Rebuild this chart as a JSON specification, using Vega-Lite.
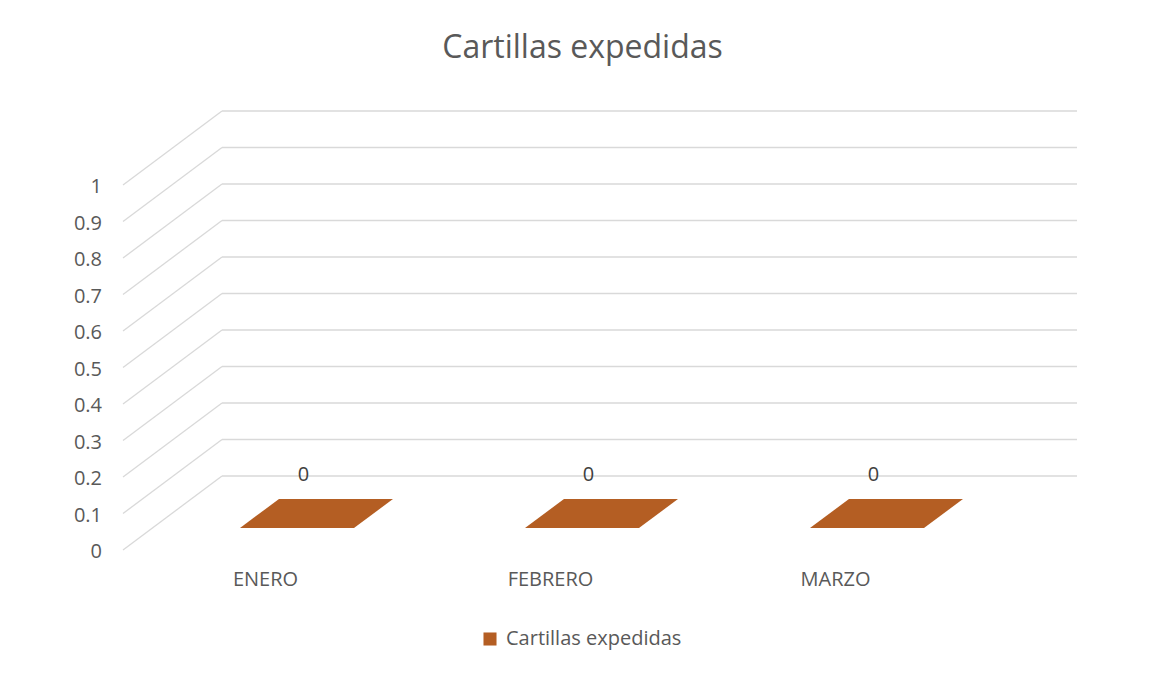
{
  "$schema": "https://vega.github.io/schema/vega-lite/v6.json",
  "width": 855,
  "height": 365,
  "autosize": {"type": "none"},
  "padding": {"left": 123, "top": 185, "right": 173, "bottom": 125},
  "background": "white",
  "config": {"view": {"stroke": null}, "font": "Open Sans"},
  "title": {
    "text": "Cartillas expedidas",
    "fontSize": 32,
    "fontWeight": "normal",
    "color": "#595959",
    "font": "Open Sans",
    "anchor": "middle",
    "dx": 32,
    "offset": 45
  },
  "datasets": {
    "meses": [
      {"mes": "ENERO", "valor": 0, "serie": "Cartillas expedidas"},
      {"mes": "FEBRERO", "valor": 0, "serie": "Cartillas expedidas"},
      {"mes": "MARZO", "valor": 0, "serie": "Cartillas expedidas"}
    ],
    "niveles": [
      {"v": 0}, {"v": 0.1}, {"v": 0.2}, {"v": 0.3}, {"v": 0.4}, {"v": 0.5},
      {"v": 0.6}, {"v": 0.7}, {"v": 0.8}, {"v": 0.9}, {"v": 1}
    ]
  },
  "layer": [
    {
      "data": {"name": "niveles"},
      "mark": {"type": "rule", "color": "#D9D9D9", "strokeWidth": 1.3, "xOffset": 99, "x2Offset": 99, "yOffset": -74, "y2Offset": -74},
      "encoding": {
        "x": {"datum": "ENERO", "type": "nominal", "bandPosition": 0,
          "scale": {"domain": ["ENERO", "FEBRERO", "MARZO"], "paddingInner": 0, "paddingOuter": 0}},
        "x2": {"datum": "MARZO", "bandPosition": 1},
        "y": {"field": "v", "type": "quantitative", "scale": {"domain": [0, 1], "nice": false}, "axis": null},
        "y2": {"field": "v"}
      }
    },
    {
      "data": {"name": "niveles"},
      "mark": {"type": "rule", "color": "#D9D9D9", "strokeWidth": 1.3, "x2Offset": 99, "y2Offset": -74},
      "encoding": {
        "x": {"datum": "ENERO", "type": "nominal", "bandPosition": 0},
        "x2": {"datum": "ENERO", "bandPosition": 0},
        "y": {"field": "v", "type": "quantitative"},
        "y2": {"field": "v"}
      }
    },
    {
      "data": {"name": "niveles"},
      "mark": {"type": "text", "align": "right", "baseline": "middle", "dx": -21, "dy": 2, "fontSize": 20, "color": "#595959", "font": "Open Sans"},
      "encoding": {
        "x": {"datum": "ENERO", "type": "nominal", "bandPosition": 0},
        "y": {"field": "v", "type": "quantitative"},
        "text": {"field": "v", "type": "quantitative", "format": "~g"}
      }
    },
    {
      "data": {"name": "meses"},
      "mark": {"type": "point", "filled": true, "opacity": 1, "size": 40000, "strokeWidth": 0,
        "shape": "M -0.255 -0.22 L 0.885 -0.22 L 1.275 -0.51 L 0.135 -0.51 Z"},
      "encoding": {
        "x": {"field": "mes", "type": "nominal", "sort": null,
          "axis": {"domain": false, "ticks": false, "grid": false, "labelAngle": 0, "labelAlign": "center", "labelPadding": 29,
            "labelFontSize": 20, "labelColor": "#595959", "labelFont": "Open Sans", "title": null}},
        "y": {"field": "valor", "type": "quantitative"},
        "fill": {"field": "serie", "type": "nominal", "scale": {"range": ["#B45E23"]},
          "legend": {"title": null, "orient": "none", "legendX": 357, "legendY": 444, "padding": 0,
            "symbolType": "square", "symbolSize": 170, "symbolStrokeWidth": 0, "labelOffset": 6, "labelLimit": 400,
            "labelFontSize": 20, "labelColor": "#595959", "labelFont": "Open Sans",
            "encode": {"symbols": {"update": {"fill": {"value": "#ED7D31"}, "stroke": {"value": "#ED7D31"}}}}}}
      }
    },
    {
      "data": {"name": "meses"},
      "mark": {"type": "text", "dx": 38, "dy": -75, "fontSize": 20, "color": "#404040", "baseline": "middle", "font": "Open Sans"},
      "encoding": {
        "x": {"field": "mes", "type": "nominal", "sort": null},
        "y": {"field": "valor", "type": "quantitative"},
        "text": {"field": "valor", "type": "quantitative"}
      }
    }
  ]
}
